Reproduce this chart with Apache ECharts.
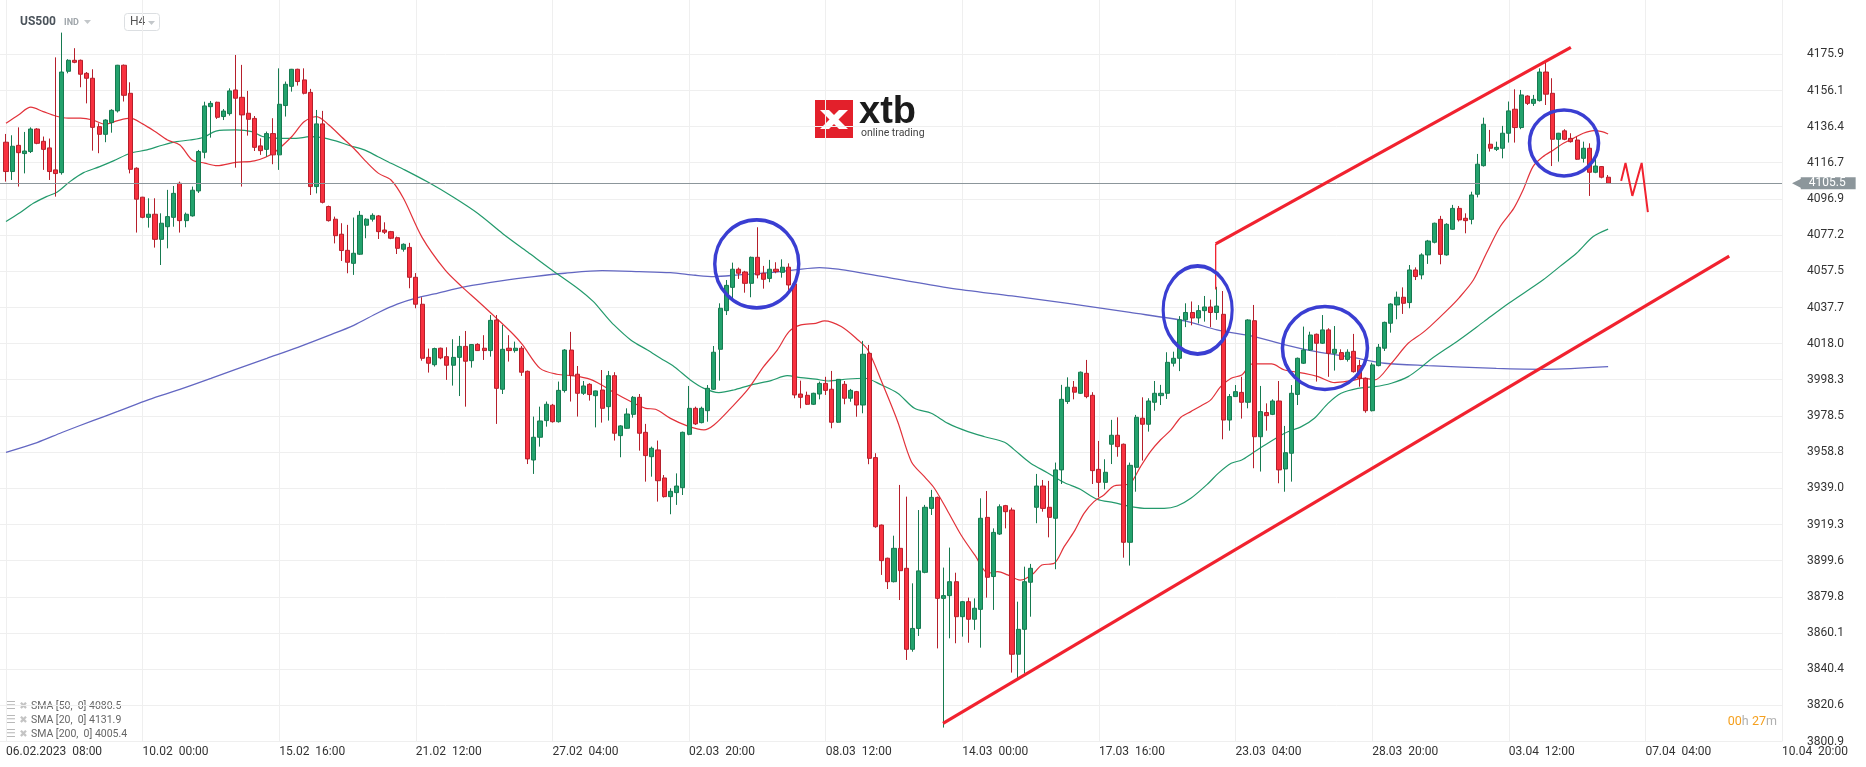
<!DOCTYPE html>
<html>
<head>
<meta charset="utf-8">
<script src="https://cdn.jsdelivr.net/npm/echarts@6/dist/echarts.min.js"></script>
<style>
html,body{margin:0;padding:0;background:#fff;}
#chart{width:1866px;height:767px;}
</style>
</head>
<body>
<div id="chart"></div>
<script>
// ---------- DATA ----------
const xTickIndex = [0,22,44,66,88,110,132,154,176,198,220,242,264,286];
const xTickLabels = ['06.02.2023  08:00','10.02  00:00','15.02  16:00','21.02  12:00','27.02  04:00','02.03  20:00','08.03  12:00','14.03  00:00','17.03  16:00','23.03  04:00','28.03  20:00','03.04  12:00','07.04  04:00','10.04  20:00'];
const yTicks = [3800.9,3820.6,3840.4,3860.1,3879.8,3899.6,3919.3,3939.0,3958.8,3978.5,3998.3,4018.0,4037.7,4057.5,4077.2,4096.9,4116.7,4136.4,4156.1,4175.9];
const lastPrice = 4105.5;
const legendLines = ['SMA [50,  0] 4080.5','SMA [20,  0] 4131.9','SMA [200,  0] 4005.4'];

// candles: [open, close, low, high], one per H4 bar
const ohlc = [
[4127.9,4111.9,4106.4,4132.4],[4111.9,4125.7,4107.3,4131.7],[4126.2,4122.2,4103.7,4136.0],[4121.7,4123.1,4110.9,4133.5],
[4122.8,4135.1,4122.0,4136.0],[4135.1,4127.3,4126.8,4135.6],[4128.4,4124.0,4112.8,4131.0],[4124.8,4111.9,4107.3,4129.9],
[4112.8,4110.8,4098.2,4174.2],[4111.3,4166.2,4110.2,4187.7],[4166.6,4172.6,4165.5,4173.2],[4172.6,4171.5,4171.0,4179.2],
[4172.6,4165.0,4157.9,4173.0],[4165.5,4162.8,4149.1,4166.2],[4162.8,4136.0,4123.3,4167.7],[4136.4,4132.2,4121.9,4138.2],
[4132.2,4140.0,4127.9,4140.4],[4138.6,4145.3,4133.1,4145.9],[4145.0,4169.9,4144.1,4170.1],[4169.9,4153.5,4150.1,4170.3],
[4154.6,4113.1,4110.9,4160.6],[4113.7,4096.8,4078.6,4114.2],[4097.9,4086.9,4086.4,4098.1],[4086.9,4088.6,4081.3,4097.3],
[4088.6,4074.9,4070.4,4097.3],[4074.9,4083.7,4060.9,4089.1],[4081.8,4087.3,4070.0,4101.9],[4086.9,4100.0,4081.8,4104.0],
[4105.5,4085.1,4078.6,4106.4],[4085.1,4088.6,4081.5,4089.5],[4087.7,4101.7,4087.3,4103.7],[4101.3,4122.8,4100.2,4123.7],
[4122.4,4147.7,4119.1,4150.0],[4147.3,4149.1,4130.4,4150.4],[4149.7,4141.5,4140.6,4150.0],[4141.9,4144.9,4140.0,4146.0],
[4143.5,4155.9,4142.4,4157.3],[4156.4,4151.9,4114.0,4175.5],[4152.4,4142.8,4103.7,4170.1],[4143.7,4140.4,4131.5,4155.9],
[4140.9,4125.1,4123.1,4142.2],[4125.9,4123.3,4121.0,4130.0],[4124.0,4132.6,4120.0,4133.7],[4132.6,4121.0,4115.9,4141.0],
[4121.0,4148.6,4112.8,4168.2],[4147.9,4159.5,4141.9,4161.0],[4158.4,4167.7,4155.5,4167.9],[4167.7,4161.0,4158.8,4168.0],
[4161.9,4154.6,4154.0,4168.2],[4155.1,4103.7,4099.1,4157.0],[4103.7,4137.9,4100.0,4145.5],[4137.9,4095.1,4094.5,4145.0],
[4092.8,4085.1,4084.6,4093.3],[4085.9,4076.9,4072.7,4087.3],[4077.7,4068.8,4063.1,4083.7],[4068.9,4062.4,4056.4,4082.8],
[4061.8,4067.3,4055.5,4086.8],[4066.8,4088.0,4066.4,4090.4],[4082.6,4085.9,4075.5,4086.4],[4085.9,4088.0,4084.6,4089.1],
[4087.7,4079.1,4075.1,4088.2],[4080.0,4078.8,4077.8,4084.2],[4079.1,4075.5,4075.0,4079.5],[4075.8,4070.0,4066.9,4076.4],
[4069.5,4072.2,4068.2,4072.7],[4070.5,4054.2,4048.2,4073.0],[4054.2,4039.5,4037.3,4056.5],[4039.5,4010.0,4008.7,4043.3],
[4010.5,4007.3,4002.2,4015.3],[4006.5,4015.3,4005.5,4015.8],[4015.5,4010.2,4009.5,4015.8],[4010.9,4006.2,3998.2,4016.0],
[4006.2,4010.5,3995.1,4020.4],[4010.5,4016.5,3989.4,4022.2],[4016.5,4008.4,3983.6,4024.9],[4008.7,4017.5,4004.9,4017.8],
[4017.6,4014.2,4014.0,4018.2],[4015.5,4014.2,4009.1,4022.6],[4014.2,4030.7,4010.9,4033.6],[4030.9,3993.6,3974.2,4033.6],
[3993.1,4014.9,3990.5,4028.2],[4015.5,4014.2,4008.2,4022.6],[4014.2,4015.5,4013.1,4019.1],[4015.5,4002.4,4000.4,4016.7],
[4002.9,3955.1,3952.3,4003.3],[3954.5,3966.9,3946.9,3978.2],[3966.9,3975.8,3961.8,3983.6],[3976.0,3984.9,3972.7,3986.4],
[3984.4,3975.4,3974.9,3985.1],[3975.4,3992.5,3974.9,3997.3],[3992.4,4014.5,3991.3,4015.0],[4014.5,4000.5,3986.4,4024.4],
[4001.3,3990.9,3978.2,4005.8],[3990.9,3994.9,3990.0,3997.6],[3995.8,3990.2,3986.9,3996.4],[3989.6,3992.2,3972.3,3992.4],
[3992.7,3982.7,3974.9,4003.6],[3983.6,4000.5,3976.0,4003.1],[4000.5,3969.1,3965.1,4002.4],[3967.8,3973.1,3956.0,3973.5],
[3971.8,3979.6,3971.5,3982.7],[3979.4,3988.7,3977.6,3989.4],[3988.7,3969.1,3959.6,3990.5],[3969.6,3956.9,3942.7,3974.2],
[3956.3,3960.9,3945.4,3961.8],[3960.0,3943.2,3931.8,3965.1],[3944.7,3934.5,3934.0,3946.3],[3934.5,3937.4,3924.9,3939.1],
[3936.7,3940.3,3930.0,3947.2],[3939.4,3969.6,3935.4,3970.0],[3968.5,3982.7,3968.0,3994.9],[3982.7,3974.2,3973.6,3983.6],
[3974.9,3982.7,3974.5,3983.6],[3981.4,3993.6,3975.4,3995.4],[3993.1,4013.3,3992.7,4016.7],[4014.9,4037.3,3997.8,4040.0],
[4036.0,4049.8,4033.6,4052.7],[4048.7,4058.6,4042.2,4062.2],[4058.6,4056.4,4053.3,4059.5],[4057.1,4050.9,4045.8,4057.7],
[4050.9,4065.1,4043.3,4065.5],[4065.1,4055.5,4053.6,4081.5],[4056.4,4053.1,4048.0,4060.4],[4053.6,4058.6,4051.5,4063.7],
[4058.6,4057.3,4056.4,4062.4],[4056.9,4059.7,4054.0,4064.0],[4059.7,4050.0,4047.3,4061.8],[4050.6,3990.0,3988.2,4051.0],
[3990.5,3988.7,3982.7,3997.8],[3989.8,3984.9,3984.5,3991.8],[3984.9,3990.9,3984.5,3991.2],[3990.5,3996.3,3987.6,3997.3],
[3996.3,3992.5,3990.0,3999.9],[3993.1,3975.1,3971.8,4003.1],[3975.1,3998.5,3974.8,3998.7],[3995.8,3988.2,3984.9,3997.6],
[3988.2,3992.5,3986.3,3993.3],[3991.8,3984.5,3978.1,3992.2],[3984.5,4012.2,3980.0,4019.5],[4012.7,3955.4,3952.2,4017.3],
[3955.8,3918.1,3917.5,3958.2],[3919.0,3899.6,3891.8,3919.3],[3900.9,3888.1,3884.1,3901.2],[3888.1,3906.3,3887.7,3913.2],
[3906.3,3894.1,3878.1,3940.9],[3895.4,3851.2,3845.4,3934.5],[3851.2,3862.6,3849.9,3887.2],[3862.6,3894.0,3858.5,3927.2],
[3893.2,3928.7,3892.7,3930.0],[3928.1,3934.1,3924.5,3938.2],[3934.1,3879.0,3851.7,3934.5],[3879.0,3880.5,3808.5,3895.8],
[3880.5,3888.1,3857.2,3906.7],[3888.1,3869.0,3854.5,3893.0],[3869.0,3877.2,3858.1,3877.6],[3877.2,3867.6,3854.8,3879.4],
[3867.6,3873.6,3861.8,3879.0],[3873.0,3922.7,3852.1,3933.6],[3923.2,3890.5,3879.4,3937.6],[3890.9,3915.0,3872.7,3917.2],
[3914.1,3929.0,3913.6,3930.3],[3929.6,3926.3,3917.2,3930.0],[3927.2,3848.5,3838.5,3928.5],[3848.5,3862.1,3834.8,3877.2],
[3862.1,3888.1,3838.1,3896.3],[3887.8,3895.4,3869.0,3897.8],[3928.7,3940.3,3920.0,3946.9],[3940.3,3928.1,3926.3,3943.6],
[3928.7,3923.2,3912.3,3943.1],[3922.7,3949.1,3894.9,3953.1],[3949.1,3987.6,3941.4,3995.5],[3986.4,3994.2,3985.1,3999.6],
[3994.2,3991.5,3987.6,3997.6],[3990.9,4002.4,3990.5,4002.8],[4001.8,3989.1,3988.2,4009.1],[3989.8,3948.7,3941.4,3991.5],
[3949.4,3942.3,3934.2,3964.9],[3942.3,3947.8,3938.5,3954.9],[3963.1,3968.0,3952.3,3976.4],[3968.0,3961.8,3956.3,3977.8],
[3963.1,3909.6,3901.2,3963.5],[3909.6,3951.6,3896.9,3953.1],[3950.5,3977.8,3937.2,3979.1],[3977.3,3974.0,3954.2,3988.7],
[3974.0,3986.7,3970.0,3988.2],[3986.0,3990.9,3981.4,3997.6],[3989.6,3990.9,3984.5,3995.5],[3990.9,4007.8,3987.8,4013.3],
[4007.3,4010.0,4005.5,4013.6],[4010.0,4031.0,4003.0,4033.0],[4031.0,4035.0,4027.0,4040.0],[4035.0,4032.0,4028.0,4041.0],
[4032.0,4036.0,4029.0,4039.0],[4036.0,4038.0,4030.0,4044.0],[4038.0,4035.0,4027.0,4042.0],[4035.0,4038.5,4031.0,4049.0],
[4034.0,3976.3,3965.8,4046.7],[3976.3,3989.1,3970.5,3990.5],[3989.1,3991.8,3989.0,3995.4],[3991.4,3986.0,3977.1,3999.9],
[3986.0,4030.9,3982.7,4031.3],[4030.5,3967.2,3950.0,4039.1],[3967.2,3980.9,3948.2,3994.9],[3980.4,3978.7,3970.5,3985.4],
[3979.4,3986.7,3979.0,3987.6],[3986.7,3949.1,3941.8,3997.6],[3949.6,3958.5,3937.2,3973.1],[3958.2,3990.9,3942.7,3995.4],
[3990.3,4010.0,3984.5,4010.4],[4007.3,4014.5,4006.9,4027.3],[4014.5,4022.7,4014.0,4024.5],[4023.1,4018.2,3997.3,4023.5],
[4018.2,4025.5,4017.8,4033.6],[4025.5,4012.7,3999.9,4026.4],[4012.7,4014.9,4003.3,4027.6],[4013.1,4009.4,4009.0,4014.9],
[4009.4,4013.3,4008.2,4014.9],[4013.8,4002.7,4002.2,4023.3],[4006.0,3999.1,3994.5,4009.1],[3999.1,3981.4,3980.3,3999.5],
[3981.4,4006.4,3981.0,4007.6],[4006.0,4016.0,4005.6,4017.8],[4015.5,4029.6,4014.0,4030.0],[4029.1,4039.6,4024.0,4040.0],
[4039.1,4043.3,4031.3,4046.4],[4043.3,4040.0,4034.2,4048.7],[4040.4,4058.2,4037.3,4060.9],[4058.2,4054.6,4052.7,4059.6],
[4055.5,4066.4,4053.1,4067.3],[4066.4,4074.0,4061.5,4074.6],[4073.3,4083.7,4072.7,4084.0],[4085.8,4066.7,4061.3,4087.7],
[4066.4,4083.1,4066.0,4083.7],[4080.4,4091.8,4080.0,4093.7],[4091.8,4085.5,4084.6,4093.1],[4086.4,4085.1,4078.2,4089.1],
[4085.8,4099.1,4083.1,4100.9],[4099.5,4115.9,4097.8,4121.5],[4115.1,4137.7,4114.6,4141.3],[4126.8,4124.6,4122.8,4134.6],
[4124.0,4125.1,4123.1,4128.2],[4124.6,4132.8,4119.1,4136.8],[4132.8,4145.0,4127.7,4150.1],[4145.9,4135.9,4127.7,4156.8],
[4135.9,4153.7,4135.0,4156.4],[4153.1,4149.1,4148.2,4153.5],[4149.1,4151.3,4147.7,4153.7],[4150.6,4166.2,4150.1,4168.2],
[4166.2,4154.1,4148.2,4172.4],[4154.6,4129.5,4114.9,4162.8],[4129.5,4132.8,4117.3,4133.0],[4134.1,4129.5,4129.0,4135.0],
[4130.0,4128.2,4127.7,4132.8],[4129.1,4118.6,4118.2,4130.9],[4119.1,4124.6,4116.8,4128.2],[4124.6,4111.5,4098.6,4127.3],
[4111.5,4114.9,4111.0,4119.1],[4114.6,4108.8,4108.2,4114.9],[4108.8,4105.5,4105.2,4110.0]
];

// moving averages: [bar index, value]
const sma20 = [[0,4138.2],[2,4142.8],[4,4147.0],[6,4144.6],[8,4142.2],[10,4141.0],[12,4141.0],[14,4140.0],[16,4137.7],[18,4139.7],[20,4141.0],[22,4137.9],[24,4133.7],[26,4129.1],[28,4126.4],[30,4118.2],[32,4116.5],[34,4115.1],[37,4116.9],[40,4117.7],[43,4121.9],[46,4130.9],[48,4139.1],[50,4141.9],[52,4137.3],[54,4130.9],[56,4124.6],[58,4117.3],[60,4110.9],[62,4107.3],[64,4097.3],[67,4076],[70.7,4058.2],[73.4,4049.1],[75.8,4041.8],[79,4031.8],[81.8,4022.7],[83.2,4017.3],[86,4004.5],[88.7,4001.3],[91.5,4000.4],[94.1,3998.5],[96.2,3994.9],[97.9,3991.3],[100.6,3986.4],[103,3982.7],[104.6,3982.2],[107,3977.2],[109.7,3973.1],[112.4,3970.9],[114,3973.6],[116.7,3982.7],[119.4,3992.7],[122,4005.4],[124.2,4014.5],[126.1,4024.5],[128,4028.2],[130.4,4029.1],[131.8,4030.4],[134.5,4027.3],[137.2,4020.0],[138.8,4014.5],[141,3997.3],[143.6,3975.4],[145.8,3953.6],[147.9,3945.4],[149.5,3939.1],[151.7,3926.3],[153.8,3913.6],[156,3902.7],[158.2,3892.7],[159.7,3893.6],[161.3,3891.8],[163.3,3889.0],[164,3889.4],[165.5,3892.7],[166.8,3897.2],[168.8,3898.1],[170.4,3907.2],[172,3915.4],[173.6,3925.4],[175.2,3931.8],[176.8,3935.4],[178.4,3940.3],[180,3940.9],[181.1,3941.8],[182.7,3950.9],[184.3,3959.1],[185.9,3965.4],[187.6,3970.9],[189.2,3977.8],[190.8,3980.9],[192.4,3984.0],[194,3987.3],[195.6,3994.5],[197.3,3999.1],[199,4000.9],[200.7,4006.9],[203.8,4006.9],[205.9,4003.6],[209.1,4001.8],[211.3,4000.0],[214,3996.7],[216.6,3997.8],[218.8,3999.1],[220.4,3998.2],[223.1,4007.3],[225.8,4018.2],[228,4023.6],[229.3,4027.3],[232,4036],[234,4043],[236.3,4052.7],[238.4,4067.3],[240.6,4081.8],[242.8,4091.8],[244.3,4101.8],[245.9,4114.6],[247.5,4120.0],[249.2,4123.7],[250.8,4127.3],[252.4,4130.0],[254,4132.8],[255.7,4134.2],[257,4133.7],[258,4132.4]];
const sma50 = [[0,4084.6],[2.3,4089.5],[4.4,4094.6],[6.5,4098.2],[8.2,4100.6],[10.3,4106.4],[12.5,4111.3],[15.1,4114.6],[17.3,4117.7],[20,4121.9],[22.7,4123.7],[25.3,4126.4],[27.5,4128.2],[29.6,4129.1],[31.9,4130.6],[33.8,4134.0],[37,4134.6],[39.6,4133.7],[41.3,4131.0],[44,4130.0],[46.7,4130.0],[48.9,4130.9],[50.9,4130.4],[53.1,4128.6],[55.3,4126.1],[57.7,4123.7],[59.9,4120.0],[62,4116.4],[64.2,4112.8],[68,4106],[72,4098],[76,4089],[80,4078],[84,4068],[87.9,4058.2],[92.4,4047.3],[94.6,4040.9],[96.3,4034.2],[97.9,4028.2],[100.6,4020.0],[103.3,4014.5],[105.4,4010.0],[107.6,4005.4],[110.2,3998.2],[112.4,3993.6],[114.8,3991.3],[117.2,3992.7],[119.9,3995.4],[123.2,3997.8],[125.8,4000.5],[128,3999.4],[130.4,3998.6],[132.4,3997.6],[135.6,3998.7],[138.3,3999.1],[141,3995.4],[143.6,3990.9],[146.3,3982.7],[149,3980.0],[151.7,3974.5],[154.9,3970.0],[157.6,3967.2],[160.8,3964.2],[162.3,3960.3],[165,3952.7],[167.7,3947.6],[170.4,3942.2],[173,3938.5],[175.7,3933.1],[178.4,3931.2],[181.1,3929.1],[183.8,3928.1],[186.5,3928.1],[188.6,3929.4],[190.8,3933.6],[193.5,3941.4],[195.2,3947.2],[197.3,3952.7],[199,3954.5],[200.7,3958.2],[203.2,3963.6],[205.9,3969.1],[208.6,3972.7],[210.7,3977.3],[212.9,3985.4],[215,3990.9],[217.7,3993.6],[220.4,3994.5],[223.1,3996.4],[225.8,4000.0],[228,4005.4],[229.3,4009.1],[234,4020],[238,4030],[242,4040],[247.5,4052.7],[250.2,4060.0],[252.9,4067.3],[255.6,4076.4],[258,4080.5]];
const sma200 = [[0,3958.7],[5,3964],[9,3969.5],[14,3976],[18,3981],[23,3987.5],[28,3993],[33,3999],[37,4004],[42,4010],[47,4016],[52,4022.5],[56,4028],[60,4035],[63,4039.5],[66,4042.8],[69,4045.1],[74,4049.1],[80,4052.4],[85,4054.6],[90,4056.4],[96,4057.8],[102,4057.3],[107,4056.7],[111,4055.3],[114,4054.6],[118,4055.5],[123,4056.7],[127,4058.2],[131,4059.5],[134,4058.6],[143,4053.5],[152,4048.3],[162,4044],[171,4040],[181,4035],[190,4030.3],[195,4025.5],[201,4021.8],[206,4017.3],[211,4013.6],[217,4010.4],[222,4007.3],[229,4006.0],[240,4004.5],[248,4004.0],[258,4005.4]];

// hand-drawn annotations, in [bar index, price]
const channelUpper = [[194.8,4072.4],[252.0,4179.7]];
const channelUpperTick = [[194.8,4072.4],[194.8,4047.5]];
const channelLower = [[150.9,3810.8],[277.5,4065.8]];
const circleCenters = [[120.9,4061.5],[191.9,4036.4],[212.4,4015.6],[250.9,4127.5]];
const squiggle = [[260.1,4106.8],[260.8,4116.6],[261.9,4098.6],[263.4,4116.6],[264.4,4089.8]];

// ---------- CHART ----------
const candleData = ohlc.map((r, i) => [i, r[0], r[1], r[2], r[3]]);
const circleSizes = [[84,88],[69,88],[85,83],[69,66]];
const chart = echarts.init(document.getElementById('chart'), null, {renderer: 'canvas'});
const FONT = 'Roboto, "Noto Sans", sans-serif';
const gridColor = '#efefef';

const option = {
  animation: false,
  backgroundColor: '#ffffff',
  grid: {left: 0, right: 84, top: 0, bottom: 25.5, containLabel: false},
  xAxis: {
    type: 'value', min: -0.966, max: 286,
    axisLine: {show: false},
    axisTick: {show: false, customValues: xTickIndex},
    splitLine: {show: true, lineStyle: {color: gridColor, width: 1}},
    axisLabel: {
      customValues: xTickIndex, align: 'left', margin: 4,
      color: '#333', fontSize: 12, fontFamily: FONT,
      formatter: v => xTickLabels[xTickIndex.indexOf(Math.round(v))] || ''
    }
  },
  yAxis: {
    type: 'value', position: 'right', min: 3800.9, max: 4205.5, scale: true,
    axisLine: {show: false},
    axisTick: {show: false, customValues: yTicks},
    splitLine: {show: true, lineStyle: {color: gridColor, width: 1}},
    axisLabel: {
      customValues: yTicks, margin: 25, color: '#333', fontSize: 12, fontFamily: FONT,
      formatter: v => v.toFixed(1)
    }
  },
  series: [
    {type: 'line', name: 'SMA200', data: sma200, showSymbol: false, smooth: 0.3, silent: true, z: 2,
     lineStyle: {color: '#6367c2', width: 1.3}},
    {type: 'line', name: 'SMA50', data: sma50, showSymbol: false, smooth: 0.3, silent: true, z: 2,
     lineStyle: {color: '#239a6c', width: 1.2}},
    {type: 'line', name: 'SMA20', data: sma20, showSymbol: false, smooth: 0.3, silent: true, z: 2,
     lineStyle: {color: '#e2323a', width: 1.2}},
    {type: 'candlestick', name: 'US500', data: candleData, barWidth: 4.6, z: 3, clip: false,
     encode: {x: 0, y: [1, 2, 3, 4]},
     itemStyle: {color: '#23a26d', color0: '#f8313f', borderColor: '#167a50', borderColor0: '#b61f2b', borderWidth: 1},
     markLine: {
       silent: true, symbol: ['none', 'none'], animation: false,
       lineStyle: {color: '#8c969b', width: 1, type: 'solid'},
       label: {
         show: true, position: 'end', distance: 10,
         formatter: '{a|◀}{b|' + lastPrice.toFixed(1) + '}',
         rich: {
           a: {color: '#8c969b', fontSize: 14, lineHeight: 16, padding: [0, -2, 0, 0], fontFamily: 'DejaVu Sans'},
           b: {color: '#fff', backgroundColor: '#8c969b', fontSize: 12, fontFamily: FONT, lineHeight: 16, padding: [0, 10, 0, 8]}
         }
       },
       data: [{yAxis: lastPrice}]
     }
    },
    {type: 'line', data: channelUpper, showSymbol: false, silent: true, z: 5, lineStyle: {color: '#f1222f', width: 3.2}},
    {type: 'line', data: channelUpperTick, showSymbol: false, silent: true, z: 5, lineStyle: {color: '#f1222f', width: 1.3}},
    {type: 'line', data: channelLower, showSymbol: false, silent: true, z: 5, lineStyle: {color: '#f1222f', width: 3.2}},
    {type: 'line', data: squiggle, showSymbol: false, silent: true, z: 5, lineStyle: {color: '#f1222f', width: 2}},
    {type: 'scatter', silent: true, z: 6,
     data: circleCenters.map((c, k) => ({value: c, symbolSize: circleSizes[k]})),
     symbol: 'circle',
     itemStyle: {color: 'rgba(0,0,0,0)', borderColor: '#3a3ed2', borderWidth: 3.5, opacity: 1}}
  ],
  graphic: [
    // header
    {type: 'text', left: 20, top: 16, style: {text: 'US500', font: 'bold 12px ' + FONT, fill: '#4b535b'}},
    {type: 'text', left: 64, top: 18, style: {text: 'IND', font: 'bold 9px ' + FONT, fill: '#a0a6ab'}},
    {type: 'polygon', shape: {points: [[84, 20], [91, 20], [87.5, 24]]}, style: {fill: '#c3c7ca'}},
    {type: 'rect', shape: {x: 124.5, y: 13.5, width: 35, height: 17, r: 3}, style: {fill: '#fff', stroke: '#dcdfe2', lineWidth: 1}},
    {type: 'text', left: 130, top: 16, style: {text: 'H4', font: '12px ' + FONT, fill: '#555'}},
    {type: 'polygon', shape: {points: [[148, 21], [155, 21], [151.5, 25]]}, style: {fill: '#c3c7ca'}},
    // logo
    {type: 'rect', shape: {x: 815, y: 100, width: 38, height: 38}, style: {fill: '#e3202b'}},
    {type: 'polygon', shape: {points: [[820, 110], [829, 110], [848, 129], [839, 129]]}, style: {fill: '#fff'}},
    {type: 'polygon', shape: {points: [[820, 129], [829, 129], [848, 110], [839, 110]]}, style: {fill: '#fff'}},
    {type: 'text', left: 859, top: 94, style: {text: 'xtb', font: '900 38px "Liberation Sans", Arial, sans-serif', fill: '#1b1b1b'}},
    {type: 'text', left: 861, top: 128, style: {text: 'online trading', font: '10.5px ' + FONT, fill: '#444'}},
    // legend
    ...legendLines.map((t, k) => ({
      type: 'text', left: 6, top: 700 + k * 14,
      style: {text: '{i|☰} {x|✖} {t|' + t + '}',
        rich: {i: {fill: '#b8b8b8', font: '11px "DejaVu Sans"'}, x: {fill: '#c4c4c4', font: '10px "DejaVu Sans"'}, t: {fill: '#666', font: '10.5px ' + FONT}}}
    })),
    // countdown
    {type: 'text', right: 89, top: 715,
     style: {text: '{o|00}{g|h} {o|27}{g|m}',
       rich: {o: {fill: '#f5a01e', font: '12.5px ' + FONT}, g: {fill: '#b0b0b0', font: '12.5px ' + FONT}}}}
  ]
};
chart.setOption(option);
</script>
</body>
</html>
